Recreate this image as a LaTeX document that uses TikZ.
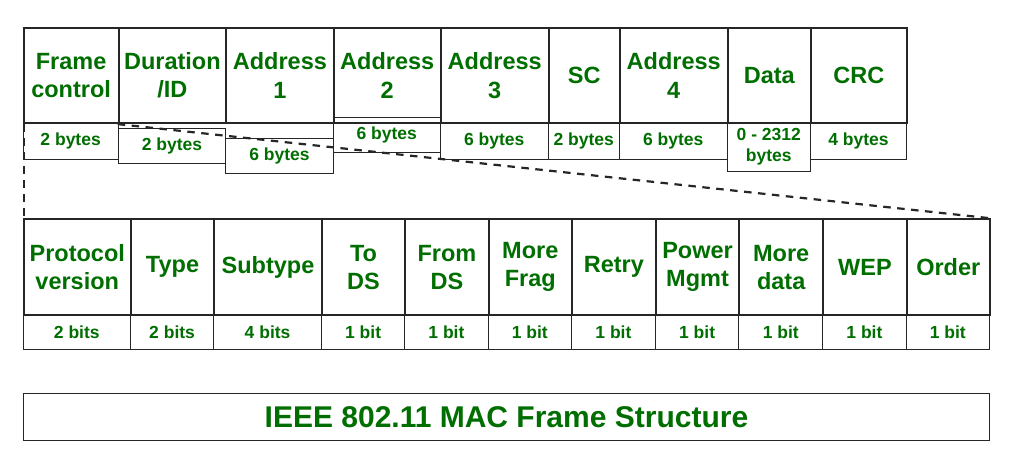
\documentclass[tikz,border=0pt]{standalone}
\usepackage{fontspec}
\setmainfont{Liberation Sans}
\usepackage{tikz}
\usepackage{xcolor}
\definecolor{gfggreen}{RGB}{0,110,0}
\tikzset{%
    fieldbox/.style={%
        draw=black!85, line width=1.8pt, inner sep=0pt, anchor=north west,
        align=center, text=gfggreen,
        font=\fontsize{23.5}{28.3}\selectfont\bfseries},
    sizebox/.style={%
        draw=black!85, line width=0.9pt, inner sep=0pt, anchor=north west,
        align=center, text=gfggreen,
        font=\fontsize{17.5}{21}\selectfont\bfseries},
    zoomline/.style={dash pattern=on 7.5pt off 6.5pt, line width=2.2pt, black!85}
}

\begin{document}
\begin{tikzpicture}[x=1pt,y=-1pt]
\useasboundingbox (0,0) rectangle (1012,455);

% MAC frame
\node[fieldbox, minimum width=95pt, minimum height=95.3pt] (fc) at (22.7,27) {Frame\\control};
\node[fieldbox, minimum width=107.6pt, minimum height=95.3pt] (dur) at (117.7,27) {Duration\\/ID};
\node[fieldbox, minimum width=107.4pt, minimum height=95.3pt] (adrA) at (225.3,27) {Address\\1};
\node[fieldbox, minimum width=107.3pt, minimum height=95.3pt] (adrB) at (332.7,27) {Address\\2};
\node[fieldbox, minimum width=107.7pt, minimum height=95.3pt] (adrC) at (440,27) {Address\\3};
\node[fieldbox, minimum width=71.3pt, minimum height=95.3pt] (sc) at (547.7,27) {SC};
\node[fieldbox, minimum width=107.7pt, minimum height=95.3pt] (adrD) at (619,27) {Address\\4};
\node[fieldbox, minimum width=83.3pt, minimum height=95.3pt] (data) at (726.7,27) {Data};
\node[fieldbox, minimum width=96pt, minimum height=95.3pt] (crc) at (810,27) {CRC};

\node[sizebox, minimum width=95pt, minimum height=36.4pt] (fcB) at (22.7,122.3) {2 bytes};
\node[sizebox, minimum width=107.6pt, minimum height=35pt] (durB) at (117.7,127.7) {2 bytes};
\node[sizebox, minimum width=107.4pt, minimum height=35.6pt] (adrAB) at (225.3,137.7) {6 bytes};
\node[sizebox, minimum width=107.3pt, minimum height=35.6pt] (adrBB) at (332.7,116.7) {6 bytes};
\node[sizebox, minimum width=107.7pt, minimum height=36.4pt] (adrCB) at (440,122.3) {6 bytes};
\node[sizebox, minimum width=71.3pt, minimum height=36.4pt] (scB) at (547.7,122.3) {2 bytes};
\node[sizebox, minimum width=107.7pt, minimum height=36.4pt] (adrDB) at (619,122.3) {6 bytes};
\node[sizebox, minimum width=83.3pt, minimum height=48.4pt] (dataB) at (726.7,122.3) {0 - 2312\\bytes};
\node[sizebox, minimum width=96pt, minimum height=36.4pt] (crcB) at (810,122.3) {4 bytes};

% frame control field
\node[fieldbox, minimum width=107.3pt, minimum height=96pt] (pv) at (22.7,218.3) {Protocol\\version};
\node[fieldbox, minimum width=83.3pt, minimum height=96pt] (ty) at (130,218.3) {Type};
\node[fieldbox, minimum width=107.7pt, minimum height=96pt] (sub) at (213.3,218.3) {Subtype};
\node[fieldbox, minimum width=83.3pt, minimum height=96pt] (tods) at (321,218.3) {To\\DS};
\node[fieldbox, minimum width=83.4pt, minimum height=96pt] (fromds) at (404.3,218.3) {From\\DS};
\node[fieldbox, minimum width=83.3pt, minimum height=96pt] (mfrag) at (487.7,218.3) {More\\Frag};
\node[fieldbox, minimum width=84pt, minimum height=96pt] (retry) at (571,218.3) {Retry};
\node[fieldbox, minimum width=83.3pt, minimum height=96pt] (pwr) at (655,218.3) {Power\\Mgmt};
\node[fieldbox, minimum width=84pt, minimum height=96pt] (mdata) at (738.3,218.3) {More\\data};
\node[fieldbox, minimum width=83.4pt, minimum height=96pt] (wep) at (822.3,218.3) {WEP};
\node[fieldbox, minimum width=83.3pt, minimum height=96pt] (order) at (905.7,218.3) {Order};

\node[sizebox, minimum width=107.3pt, minimum height=35pt] (pvB) at (22.7,314.3) {2 bits};
\node[sizebox, minimum width=83.3pt, minimum height=35pt] (tyB) at (130,314.3) {2 bits};
\node[sizebox, minimum width=107.7pt, minimum height=35pt] (subB) at (213.3,314.3) {4 bits};
\node[sizebox, minimum width=83.3pt, minimum height=35pt] (todsB) at (321,314.3) {1 bit};
\node[sizebox, minimum width=83.4pt, minimum height=35pt] (fromdsB) at (404.3,314.3) {1 bit};
\node[sizebox, minimum width=83.3pt, minimum height=35pt] (mfragB) at (487.7,314.3) {1 bit};
\node[sizebox, minimum width=84pt, minimum height=35pt] (retryB) at (571,314.3) {1 bit};
\node[sizebox, minimum width=83.3pt, minimum height=35pt] (pwrB) at (655,314.3) {1 bit};
\node[sizebox, minimum width=84pt, minimum height=35pt] (mdataB) at (738.3,314.3) {1 bit};
\node[sizebox, minimum width=83.4pt, minimum height=35pt] (wepB) at (822.3,314.3) {1 bit};
\node[sizebox, minimum width=83.3pt, minimum height=35pt] (orderB) at (905.7,314.3) {1 bit};

% zoom lines
\draw[zoomline] ([xshift=1.5pt]fc.south west) -- ([xshift=1.5pt]pv.north west);
\draw[zoomline] (dur.south west) -- (order.north east);

\node[draw=black!85, line width=1.3pt, minimum width=966.3pt, minimum height=47.3pt, inner sep=0pt,
      anchor=north west, text=gfggreen, font=\fontsize{30}{36}\selectfont\bfseries] (title) at (22.7,392.7)
      {IEEE 802.11 MAC Frame Structure};
\end{tikzpicture}
\end{document}
